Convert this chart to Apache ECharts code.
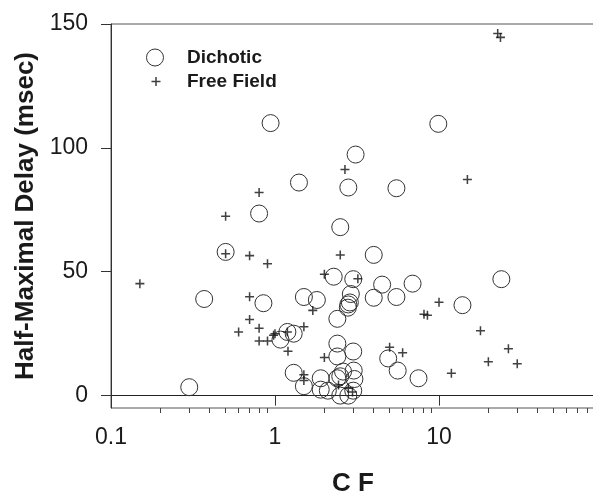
<!DOCTYPE html>
<html>
<head>
<meta charset="utf-8">
<script src="https://cdn.jsdelivr.net/npm/echarts@6/dist/echarts.min.js"></script>
<style>html,body{margin:0;padding:0;background:#fff}#c{width:593px;height:496px}</style>
</head>
<body>
<div id="c"></div>
<script>
// ---- data ----
const dichoticCF = [0.3, 0.37, 0.5, 0.8, 0.94, 0.85, 1.4, 1.08, 1.19, 1.3, 1.3, 1.5, 1.5, 1.8, 1.9, 1.9, 2.1, 2.28, 2.4, 2.5, 2.4, 2.4, 2.4, 2.5, 2.6, 2.5, 2.8, 2.8, 2.8, 2.78, 2.86, 2.9, 3.0, 3.1, 3.0, 3.02, 3.05, 3.0, 4.0, 4.0, 4.5, 5.5, 5.5, 4.9, 5.6, 6.9, 7.5, 9.9, 13.9, 24];
const dichoticDelay = [3.4, 39, 58, 73.5, 110, 37.3, 86, 22.6, 25.7, 25, 9.2, 39.8, 3.8, 38.6, 7, 2.4, 2, 48, 31, 68, 21, 15.8, 7, 7.8, 9.7, 0, 84, 0, 36.8, 35.5, 37.6, 41, 47, 97.3, 17.8, 10.1, 6.7, 2, 56.8, 39.5, 44.8, 83.7, 39.8, 15, 10.1, 45.2, 7, 109.7, 36.5, 47];
const freeFieldCF = [0.15, 0.5, 0.5, 0.6, 0.7, 0.7, 0.7, 0.8, 0.8, 0.8, 0.9, 0.9, 1.0, 0.98, 1.19, 1.2, 1.5, 1.5, 1.5, 1.7, 2.0, 2.0, 2.5, 2.67, 2.44, 2.8, 2.97, 3.2, 5.0, 6.0, 8.1, 8.5, 10, 11.9, 14.9, 17.9, 20, 26.5, 30, 22.8, 23.7];
const freeFieldDelay = [45.2, 72.4, 57.3, 25.7, 56.5, 39.9, 30.7, 82, 27.2, 22, 22, 53.2, 25, 24.4, 25.7, 17.9, 27.8, 8.4, 6.1, 34.4, 49, 15.4, 56.8, 91.3, 4.3, 3, 1.5, 47.2, 19.5, 17.3, 32.8, 32.4, 37.7, 9, 87.2, 26.2, 13.7, 18.9, 12.9, 146.2, 144.6];
const seriesNames = ['Dichotic', 'Free Field'];
const xMajorTicks = [0.1, 1, 10, 100];
const xTickLabels = [0.1, 1, 10];
const xMinorTicks = [0.2,0.3,0.4,0.5,0.6,0.7,0.8,0.9,2,3,4,5,6,7,8,9,20,30,40,50,60,70,80,90];
const yTicks = [0, 50, 100, 150];
const xTitle = 'C F';
const yTitle = 'Half-Maximal Delay (msec)';

const zip = (a, b) => a.map((v, i) => [v, b[i]]);
const FONT = '"Liberation Sans", Arial, sans-serif';
const INK = '#1a1a1a';
const crossPath = 'path://M4.15,0h1.7v4.15h4.15v1.7h-4.15v4.15h-1.7v-4.15h-4.15v-1.7h4.15z';

const chart = echarts.init(document.getElementById('c'), null, {renderer: 'canvas'});
chart.setOption({
  animation: false,
  backgroundColor: '#fff',
  textStyle: {fontFamily: FONT},
  grid: {left: 111, right: -10, top: 24, bottom: 88, containLabel: false, outerBoundsMode: 'none',
         show: true, borderColor: '#555', borderWidth: 1, backgroundColor: 'transparent'},
  legend: [
    {data: [{name: seriesNames[0], itemStyle: {color: 'transparent', borderColor: '#333', borderWidth: 1}}],
     orient: 'vertical', left: 146, top: 47.5, padding: 0, itemWidth: 18, itemHeight: 17,
     selectedMode: false,
     textStyle: {fontFamily: FONT, fontSize: 19, fontWeight: 'bold', color: INK, lineHeight: 20, padding: [0,0,0,18]}},
    {data: [{name: seriesNames[1]}],
     orient: 'vertical', left: 151.5, top: 71.5, padding: 0, itemWidth: 9, itemHeight: 9,
     selectedMode: false,
     textStyle: {fontFamily: FONT, fontSize: 19, fontWeight: 'bold', color: INK, lineHeight: 20, padding: [0,0,0,21.5]}}
  ],
  xAxis: [
    {type: 'log', logBase: 10, min: 0.1, max: 100, position: 'bottom',
     name: xTitle, nameLocation: 'middle', nameGap: 63,
     nameTextStyle: {fontFamily: FONT, fontSize: 26, fontWeight: 'bold', color: INK, padding: [0, 8, 0, 0]},
     axisLine: {show: true, lineStyle: {color: '#222', width: 1}},
     axisTick: {show: true, length: 10, customValues: xMajorTicks, lineStyle: {color: '#333'}},
     axisLabel: {show: true, customValues: xTickLabels, margin: 18, fontFamily: FONT, fontSize: 23, color: INK,
                 formatter: v => String(v)},
     splitLine: {show: false}},
    {type: 'log', logBase: 10, min: 0.1, max: 100, position: 'bottom',
     axisLine: {show: false},
     axisTick: {show: true, length: 5, customValues: xMinorTicks, lineStyle: {color: '#444'}},
     axisLabel: {show: false},
     splitLine: {show: false}}
  ],
  yAxis: {
    type: 'value', min: -5, max: 150,
    name: yTitle, nameLocation: 'middle', nameGap: 72,
    nameTextStyle: {fontFamily: FONT, fontSize: 26, fontWeight: 'bold', color: INK},
    axisLine: {show: true, lineStyle: {color: '#333', width: 1}},
    axisTick: {show: true, length: 10, customValues: yTicks, lineStyle: {color: '#333'}},
    axisLabel: {show: true, customValues: yTicks, margin: 23, fontFamily: FONT, fontSize: 23, color: INK},
    splitLine: {show: false}
  },
  series: [
    {name: seriesNames[0], type: 'scatter', xAxisIndex: 0, data: zip(dichoticCF, dichoticDelay),
     symbol: 'circle', symbolSize: 17,
     itemStyle: {color: 'transparent', borderColor: '#333', borderWidth: 1, opacity: 1}},
    {name: seriesNames[1], type: 'scatter', xAxisIndex: 0, data: zip(freeFieldCF, freeFieldDelay),
     symbol: crossPath, symbolSize: 9, z: 3,
     itemStyle: {color: '#111'}}
  ]
});
</script>
</body>
</html>
